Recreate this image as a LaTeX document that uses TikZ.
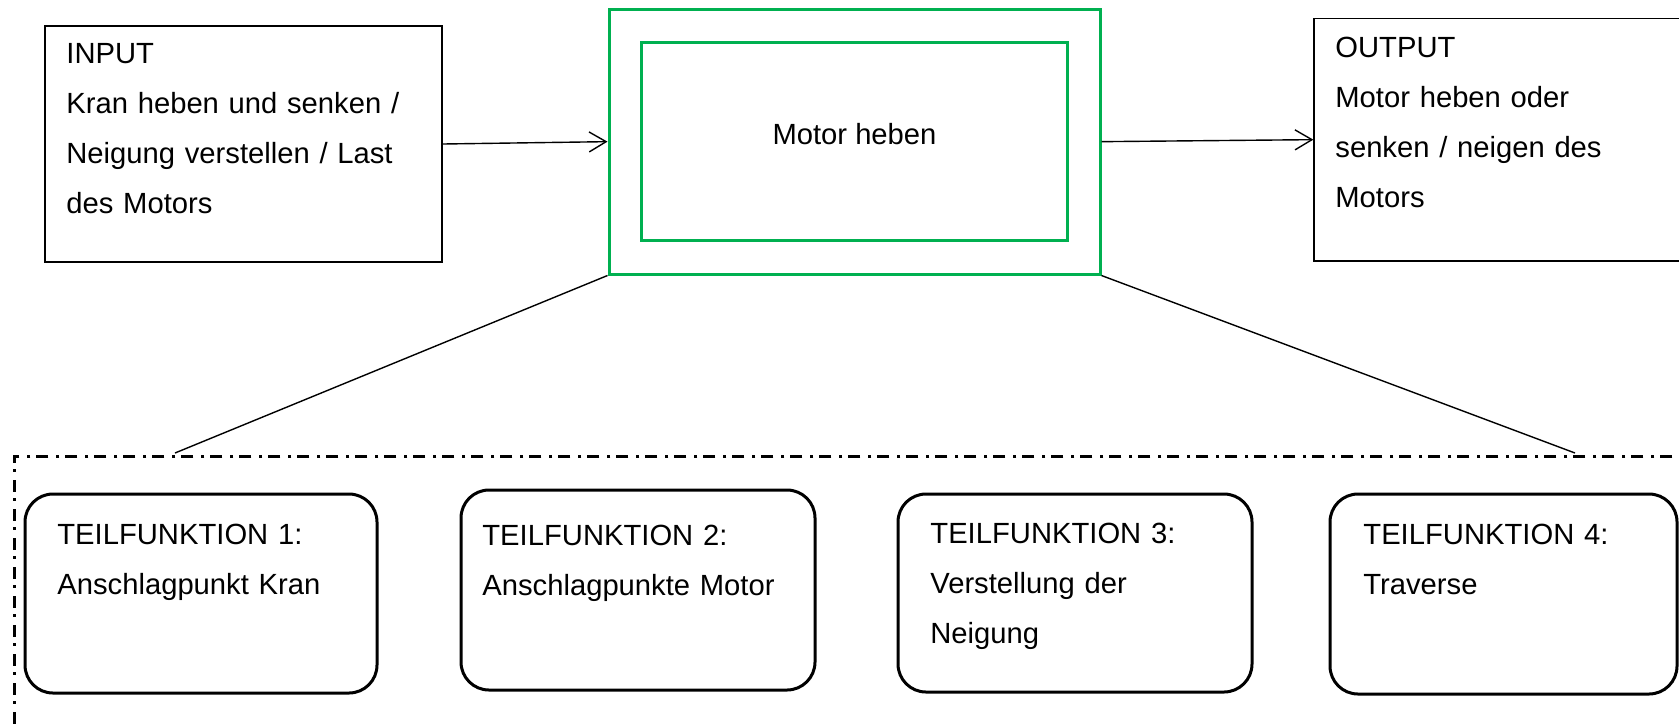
\documentclass[tikz,border=0pt]{standalone}
\usepackage{fontspec}
\setmainfont{Liberation Sans}
\usetikzlibrary{arrows.meta,fit}
\definecolor{wgreen}{RGB}{0,176,80}
\begin{document}
\begin{tikzpicture}[x=0.5pt,y=-0.5pt,
  txt/.style={anchor=base west, inner sep=0pt, text width=330pt, align=left,
    font=\fontsize{14.6pt}{25pt}\selectfont},
  plainbox/.style={draw, line width=0.65pt, inner sep=0pt},
  greenbox/.style={draw=wgreen, line width=1.5pt, inner sep=0pt},
  tfbox/.style={draw, line width=1.5pt, rounded corners=14pt, inner sep=0pt},
  groupframe/.style={draw, line width=1.5pt, inner sep=0pt,
    dash pattern=on 6pt off 3pt on 1.5pt off 4pt},
  conn/.style={line width=0.7pt},
  arr/.style={conn, -{Straight Barb[length=8.5pt,width=10pt]}}]
\clip (0,0) rectangle (1679,725);
\fill[white] (0,0) rectangle (1679,725);

% top row boxes
\node[plainbox, fit={(45,26)(442,262)}] (in) {};
\node[greenbox, fit={(609,9.3)(1100,274)}] (outer) {};
\node[greenbox, fit={(641.7,42.7)(1067,240)}] (inner) {};
\node[plainbox, fit={(1314,18.3)(1730,261)}] (out) {};

\node[txt] (intxt) at (66,63.3) {INPUT\\Kran heben und senken /\\Neigung verstellen / Last\\des Motors};
\node[txt] (outtxt) at (1335,57.7) {OUTPUT\\Motor heben oder\\senken / neigen des\\Motors};
\node[anchor=base, inner sep=0pt, font=\fontsize{14.6pt}{25pt}\selectfont] (mtxt) at (854.5,144) {Motor heben};

\draw[arr] (in.east) -- (outer.west);
\draw[arr] (outer.east) -- (out.west);

% group frame
\node[groupframe, fit={(14,456.7)(1740,780)}] (grp) {};
\coordinate (gl) at (175,453);
\coordinate (gr) at (1575,453);
\draw[conn] (outer.south west) -- (gl);
\draw[conn] (outer.south east) -- (gr);

% sub-function boxes
\node[tfbox, fit={(25,494)(377,693)}] (b1) {};
\node[tfbox, fit={(461,490)(815,690)}] (b2) {};
\node[tfbox, fit={(898,494)(1252,692)}] (b3) {};
\node[tfbox, fit={(1330,494)(1677,694)}] (b4) {};

\node[txt] (t1) at (57,544) {TEILFUNKTION 1:\\Anschlagpunkt Kran};
\node[txt] (t2) at (482,545) {TEILFUNKTION 2:\\Anschlagpunkte Motor};
\node[txt] (t3) at (930,543) {TEILFUNKTION 3:\\Verstellung der\\Neigung};
\node[txt] (t4) at (1363,544) {TEILFUNKTION 4:\\Traverse};
\end{tikzpicture}
\end{document}
